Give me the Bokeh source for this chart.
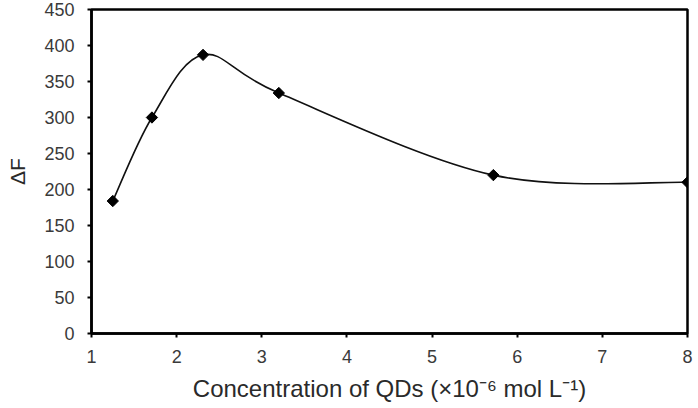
from bokeh.plotting import figure
from bokeh.models import Range1d, FixedTicker
from bokeh.embed import file_html
from bokeh.resources import INLINE

# data
conc = [1.25, 1.71, 2.31, 3.2, 5.72, 8.0]
delta_f = [184, 300, 387, 334, 220, 210]
x_ticks = [1, 2, 3, 4, 5, 6, 7, 8]
y_ticks = [0, 50, 100, 150, 200, 250, 300, 350, 400, 450]

FONT = "Liberation Sans"

p = figure(width=698, height=408, output_backend="svg", toolbar_location=None,
           x_range=Range1d(1, 8), y_range=Range1d(0, 450),
           min_border_left=91, min_border_right=11, min_border_top=9, min_border_bottom=75)
p.grid.visible = False
p.outline_line_color = "black"
p.outline_line_width = 2.5
p.background_fill_color = "white"
p.border_fill_color = "white"

# smoothed curve (Excel-style Catmull-Rom bezier segments)
n = len(conc)
x0, y0, x1, y1, cx0, cy0, cx1, cy1 = [], [], [], [], [], [], [], []
for i in range(n - 1):
    pm = max(i - 1, 0)
    pp = min(i + 2, n - 1)
    x0.append(conc[i]); y0.append(delta_f[i])
    x1.append(conc[i + 1]); y1.append(delta_f[i + 1])
    cx0.append(conc[i] + (conc[i + 1] - conc[pm]) / 6)
    cy0.append(delta_f[i] + (delta_f[i + 1] - delta_f[pm]) / 6)
    cx1.append(conc[i + 1] - (conc[pp] - conc[i]) / 6)
    cy1.append(delta_f[i + 1] - (delta_f[pp] - delta_f[i]) / 6)
p.bezier(x0=x0, y0=y0, x1=x1, y1=y1, cx0=cx0, cy0=cy0, cx1=cx1, cy1=cy1,
         line_color="#111111", line_width=1.6)

p.scatter(conc, delta_f, marker="square", angle=0.7854, size=8, color="black")

for ax in (p.xaxis, p.yaxis):
    ax.axis_line_width = 2.5
    ax.axis_line_color = "black"
    ax.major_tick_line_width = 2
    ax.major_tick_out = 4
    ax.major_tick_in = 0
    ax.minor_tick_line_color = None
    ax.major_label_text_font = FONT
    ax.major_label_text_font_size = "18px"
    ax.major_label_text_color = "#3a3a3a"
    ax.axis_label_text_font = FONT
    ax.axis_label_text_font_style = "normal"
    ax.axis_label_text_color = "#2a2a2a"

p.xaxis.ticker = FixedTicker(ticks=x_ticks)
p.yaxis.ticker = FixedTicker(ticks=y_ticks)
p.xaxis.major_label_standoff = 12
p.yaxis.major_label_standoff = 13
p.xaxis.axis_label = "Concentration of QDs (×10⁻⁶ mol L⁻¹)"
p.xaxis.axis_label_text_font_size = "24px"
p.xaxis.axis_label_standoff = 9
p.yaxis.axis_label = "ΔF"
p.yaxis.axis_label_text_font_size = "21px"
p.yaxis.axis_label_standoff = 12

open("out.html", "w").write(file_html(p, INLINE))
